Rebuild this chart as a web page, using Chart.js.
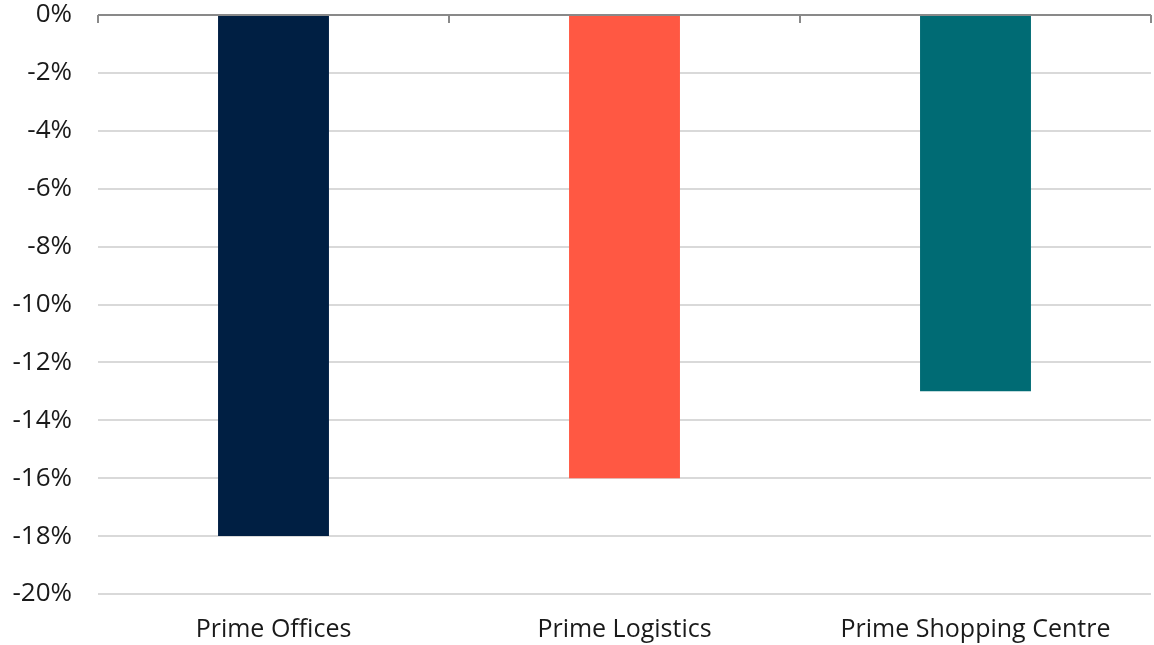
<!DOCTYPE html>
<html>
<head>
<meta charset="utf-8">
<script src="https://cdn.jsdelivr.net/npm/chart.js@4/dist/chart.umd.min.js"></script>
<style>
  html, body { margin: 0; padding: 0; background: #fff; overflow: hidden; }
</style>
</head>
<body>
<canvas id="chart" width="1154" height="645"></canvas>
<script>
// data
const categories = ['Prime Offices', 'Prime Logistics', 'Prime Shopping Centre'];
const changes    = [-18, -16, -13];
const barColours = ['#001F43', '#FF5843', '#006B74'];
const yTicksMin = -20, yTicksMax = 0, yStep = 2;

// little down-pointing tick marks on the zero line, at category boundaries
const zeroTicks = {
  id: 'zeroTicks',
  afterDatasetsDraw(chart) {
    const { ctx, chartArea, scales } = chart;
    const y0 = scales.y.getPixelForValue(0);
    const n = categories.length;
    const w = (chartArea.right - chartArea.left) / n;
    ctx.save();
    ctx.strokeStyle = '#898989';
    ctx.lineWidth = 2;
    ctx.beginPath();
    ctx.moveTo(chartArea.left, y0);
    ctx.lineTo(chartArea.right, y0);
    for (let i = 0; i <= n; i++) {
      const x = Math.round(chartArea.left + i * w);
      ctx.moveTo(x, y0);
      ctx.lineTo(x, y0 + 8);
    }
    ctx.stroke();
    ctx.restore();
  }
};

Chart.defaults.font.family = '"Open Sans", "Noto Sans", sans-serif';
Chart.defaults.color = '#1a1a1a';

new Chart(document.getElementById('chart'), {
  type: 'bar',
  data: {
    labels: categories,
    datasets: [{
      data: changes,
      backgroundColor: barColours,
      barPercentage: 0.316,
      categoryPercentage: 1
    }]
  },
  options: {
    responsive: false,
    animation: false,
    layout: { autoPadding: false, padding: { top: 15, right: 3, left: 0, bottom: 0 } },
    plugins: { legend: { display: false }, tooltip: { enabled: false } },
    scales: {
      x: {
        grid: { display: false },
        border: { display: false },
        ticks: { font: { size: 25 }, padding: 13, maxRotation: 0 },
        afterFit: s => { s.height = 51; s.paddingLeft = 0; s.paddingRight = 0; }
      },
      y: {
        min: yTicksMin,
        max: yTicksMax,
        grid: {
          color: ctx => ctx.tick && ctx.tick.value === 0 ? 'rgba(0,0,0,0)' : '#d9d9d9',
          lineWidth: 2,
          drawTicks: false
        },
        border: { display: false },
        ticks: {
          stepSize: yStep,
          font: { size: 26 },
          padding: 26,
          callback: v => v + '%'
        },
        afterFit: s => { s.width = 98; s.paddingTop = 0; s.paddingBottom = 0; }
      }
    }
  },
  plugins: [zeroTicks]
});
</script>
</body>
</html>
